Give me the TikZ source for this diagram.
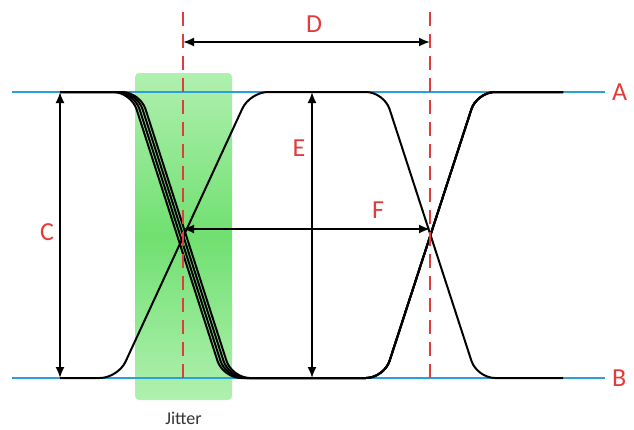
\documentclass[tikz,border=0pt]{standalone}
\usepackage{fontspec}
\setmainfont{Carlito}
\usetikzlibrary{arrows.meta,positioning}
\definecolor{levelblue}{HTML}{2A9FD8}
\definecolor{markred}{HTML}{E23B3B}
\definecolor{jitgreen}{HTML}{70E070}
\definecolor{jitpale}{HTML}{B0F0B0}

\begin{document}
\begin{tikzpicture}[x=1pt, y=-1pt, >={Latex[length=11pt,width=9pt]},
  level/.style={levelblue, line width=2.5pt},
  wave/.style={black, line width=2pt, rounded corners=18pt},
  measure/.style={<->, line width=1.8pt},
  marker/.style={markred, line width=2pt, dash pattern=on 14pt off 8pt},
  tag/.style={text=markred, font=\fontsize{26}{26}\selectfont, inner sep=0pt}]
  \useasboundingbox (0,0) rectangle (634,429);
  % jitter window
  \node[rounded corners=4pt, top color=jitpale, bottom color=jitpale, middle color=jitgreen,
        minimum width=97pt, minimum height=327pt, inner sep=0pt] (window) at (183.5,236.5) {};
  \node[text=black!80, font=\fontsize{18}{18}\selectfont, below=8pt of window] (jitter) {Jitter};
  % logic levels
  \coordinate (topL) at (12,92);
  \coordinate (topR) at (605,92);
  \coordinate (botL) at (12,378);
  \coordinate (botR) at (605,378);
  \draw[level] (topL) -- (topR);
  \draw[level] (botL) -- (botR);
  \node[tag, right=7pt of topR] (lblA) {A};
  \node[tag, right=7pt of botR] (lblB) {B};
  % traces
  \foreach \d in {0,3,6,9}
    \draw[wave] (60,92) -- (131+\d,92) -- (223+\d,378) -- (384,378) -- (477,92) -- (563,92);
  \draw[wave] (60,378) -- (118,378) -- (250,92) -- (384,92) -- (477,378) -- (563,378);
  % crossing markers
  \coordinate (mk1top) at (183,12);
  \coordinate (mk1bot) at (183,380);
  \coordinate (mk2top) at (430,12);
  \coordinate (mk2bot) at (430,380);
  \draw[marker] (mk1top) -- (mk1bot);
  \draw[marker] (mk2top) -- (mk2bot);
  % measurements
  \coordinate (dL) at (183,42);
  \coordinate (dR) at (430,42);
  \coordinate (fL) at (183,229);
  \coordinate (fR) at (430,229);
  \coordinate (cT) at (60,92);
  \coordinate (cB) at (60,378);
  \coordinate (eT) at (312,92);
  \coordinate (eB) at (312,378);
  \draw[measure] (dL) -- (dR);
  \draw[measure] (fL) -- (fR);
  \draw[measure] (cT) -- (cB);
  \draw[measure] (eT) -- (eB);
  \node[tag] (lblD) at (314,24) {D};
  \node[tag] (lblF) at (378,210) {F};
  \node[tag] (lblC) at (47,232) {C};
  \node[tag] (lblE) at (299,148) {E};
\end{tikzpicture}
\end{document}
